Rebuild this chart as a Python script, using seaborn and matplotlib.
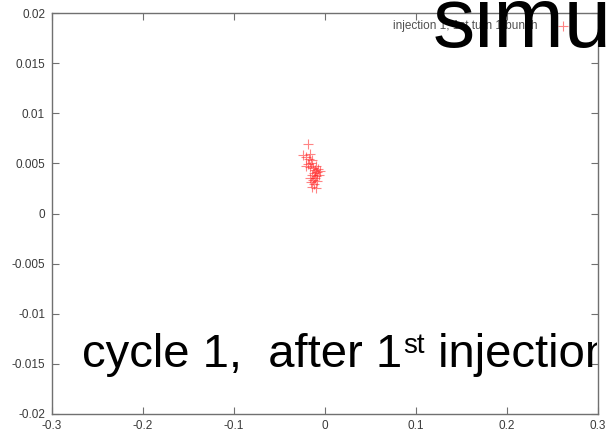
import matplotlib
matplotlib.use("Agg")
import matplotlib.pyplot as plt
from matplotlib.transforms import Bbox
import seaborn as sns
import pandas as pd

# data
x_vals = [-0.0187, -0.0242, -0.0209, -0.0165, -0.0176, -0.0143, -0.0154, -0.0187,
          -0.0209, -0.0165, -0.0132, -0.0099, -0.0077, -0.0055, -0.0088, -0.0121,
          -0.0143, -0.0099, -0.0066, -0.0110, -0.0132, -0.0088, -0.0154, -0.0121,
          -0.0143, -0.0099, -0.0165, -0.0110]
y_vals = [0.0069, 0.0058, 0.0056, 0.0059, 0.0054, 0.0053, 0.0050, 0.0049,
          0.0047, 0.0046, 0.0045, 0.0047, 0.0044, 0.0042, 0.0041, 0.0040,
          0.0038, 0.0037, 0.0038, 0.0035, 0.0033, 0.0032, 0.0031, 0.0029,
          0.0026, 0.0025, 0.0035, 0.0043]
x_ticks = [-0.3, -0.2, -0.1, 0, 0.1, 0.2, 0.3]
x_tick_labels = ["-0.3", "-0.2", "-0.1", "0", "0.1", "0.2", "0.3"]
y_ticks = [-0.02, -0.015, -0.01, -0.005, 0, 0.005, 0.01, 0.015, 0.02]
y_tick_labels = ["-0.02", "-0.015", "-0.01", "-0.005", "0", "0.005", "0.01", "0.015", "0.02"]
series_label = "injection 1, 1st turn 1 bunch"
title_text = "simulation"
caption_main = "cycle 1,  after 1"
caption_sup = "st"
caption_tail = " injection"

sns.set_style("white")
plt.rcParams['font.family'] = ['Liberation Sans', 'DejaVu Sans']

df = pd.DataFrame({"x": x_vals, "y": y_vals})

W, H = 610, 441
fig = plt.figure(figsize=(W / 100, H / 100), dpi=100)
ax = fig.add_axes([52 / W, 27 / H, 546 / W, 401 / H])

sns.scatterplot(data=df, x="x", y="y", marker="+", color="#ff2020", s=50,
                linewidth=0.8, alpha=0.55, ax=ax, label=series_label)

ax.set_xlim(-0.3, 0.3)
ax.set_ylim(-0.02, 0.02)
ax.set_xticks(x_ticks)
ax.set_xticklabels(x_tick_labels)
ax.set_yticks(y_ticks)
ax.set_yticklabels(y_tick_labels)
ax.set_xlabel("")
ax.set_ylabel("")
ax.tick_params(direction="in", length=5, width=0.8, color="#707070",
               labelsize=8.5, labelcolor="#3a3a3a", top=True, right=True,
               bottom=True, left=True)
ax.tick_params(axis="y", pad=5)
ax.tick_params(axis="x", pad=4)
for s in ax.spines.values():
    s.set_color("#707070")
    s.set_linewidth(1.0)

leg = ax.legend(loc="upper right", frameon=False, markerfirst=False,
                fontsize=8.5, handlelength=1.2, handletextpad=1.6,
                bbox_to_anchor=(0.96, 0.998), borderaxespad=0.1)
for t in leg.get_texts():
    t.set_color("#505050")

fig.text(433 / W, 1 - 47 / H, title_text, fontsize=61, color="black",
         ha="left", va="baseline", zorder=10)

clip = Bbox.from_extents(0, 0, 597, H)
renderer = fig.canvas.get_renderer()
t1 = fig.text(82 / W, 1 - 367 / H, caption_main, fontsize=34, color="black",
              ha="left", va="baseline", zorder=10)
bb = t1.get_window_extent(renderer)
x2 = bb.x1 / fig.bbox.width
t2 = fig.text(x2 + 1 / W, 1 - 353 / H, caption_sup, fontsize=20, color="black",
              ha="left", va="baseline", zorder=10)
bb2 = t2.get_window_extent(renderer)
x3 = bb2.x1 / fig.bbox.width
t3 = fig.text(x3, 1 - 367 / H, caption_tail, fontsize=34, color="black",
              ha="left", va="baseline", zorder=10)
for t in (t1, t2, t3):
    t.set_clip_box(clip)
    t.set_clip_on(True)

fig.savefig("out.png", dpi=100)
